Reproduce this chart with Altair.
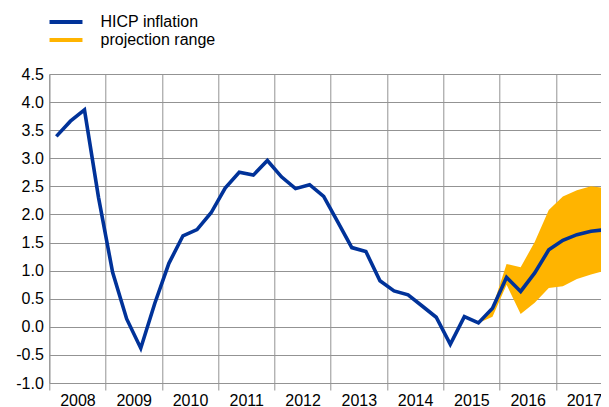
import altair as alt
import pandas as pd

years = ["2008", "2009", "2010", "2011", "2012", "2013", "2014", "2015", "2016", "2017"]

# quarterly HICP inflation, 2008Q1 .. 2017Q4
hicp = [3.39, 3.66, 3.86, 2.30,
        0.97, 0.14, -0.38, 0.42,
        1.13, 1.62, 1.73, 2.03,
        2.47, 2.75, 2.70, 2.96,
        2.67, 2.46, 2.53, 2.32,
        1.87, 1.41, 1.34, 0.82,
        0.64, 0.57, 0.37, 0.17,
        -0.31, 0.18, 0.07, 0.33,
        0.88, 0.63, 0.96, 1.37,
        1.54, 1.64, 1.70, 1.73]

# projection range, starting at quarter index 30 (2015Q3)
proj_start = 30
proj_low = [0.07, 0.18, 0.75, 0.23, 0.43, 0.69, 0.72, 0.85, 0.93, 1.00]
proj_high = [0.07, 0.35, 1.12, 1.06, 1.51, 2.08, 2.32, 2.43, 2.50, 2.47]

y_ticks = [-1.0, -0.5, 0.0, 0.5, 1.0, 1.5, 2.0, 2.5, 3.0, 3.5, 4.0, 4.5]

series_names = ["HICP inflation", "projection range"]
series_colors = ["#003299", "#ffb400"]

line_df = pd.DataFrame({
    "q": [i + 0.5 for i in range(len(hicp))],
    "value": hicp,
    "series": series_names[0],
})
area_df = pd.DataFrame({
    "q": [proj_start + i + 0.5 for i in range(len(proj_low))],
    "low": proj_low,
    "high": proj_high,
    "series": series_names[1],
})

FONT = "Liberation Sans"
GRID = "#939393"
n_q = len(years) * 4

# the plot is cut by the right edge of the picture, a bit before the end of 2017
PAD_L = 41.3
PLOT_W = 593 - PAD_L
Q_W = 14.07
x_max = PLOT_W / Q_W

years_js = "[" + ",".join("'" + y + "'" for y in years) + "]"
is_boundary = "datum.value % 4 == 0"

x_enc = alt.X(
    "q:Q",
    scale=alt.Scale(domain=[0, x_max], nice=False, zero=False),
    axis=alt.Axis(
        title=None,
        values=list(range(0, n_q, 2)),
        labelExpr=f"datum.value % 4 == 2 ? {years_js}[floor(datum.value / 4)] : ''",
        tickOpacity={"condition": {"test": is_boundary, "value": 1}, "value": 0},
        gridOpacity={"condition": {"test": is_boundary, "value": 1}, "value": 0},
        tickSize=7,
        tickColor=GRID,
        gridColor=GRID,
        domainColor=GRID,
        labelPadding=2,
        labelFontSize=16,
        labelFont=FONT,
        labelColor="#000000",
        labelAngle=0,
        labelFlush=False,
        labelOverlap=False,
    ),
)

y_scale = alt.Scale(domain=[-1.0, 4.5], nice=False, zero=False)
y_axis = alt.Axis(
    title=None,
    values=y_ticks,
    labelExpr="(datum.value < 0 ? '-' : '') + format(abs(datum.value), '.1f')",
    ticks=False,
    labelPadding=6,
    gridColor=GRID,
    domainColor=GRID,
    labelFontSize=16,
    labelFont=FONT,
    labelColor="#000000",
    labelOverlap=False,
)

color_scale = alt.Scale(domain=series_names, range=series_colors)
legend = alt.Legend(
    title=None,
    orient="none",
    legendX=6.7,
    legendY=-62,
    symbolType="M-2.06,0H2.06",
    symbolSize=256,
    symbolStrokeWidth=4,
    labelFontSize=16,
    labelFont=FONT,
    labelColor="#000000",
    labelOffset=24.5,
    rowPadding=0,
    padding=0,
)

area = alt.Chart(area_df).mark_area(opacity=1).encode(
    x=x_enc,
    y=alt.Y("low:Q", scale=y_scale, axis=y_axis),
    y2="high:Q",
    color=alt.Color("series:N", scale=color_scale, legend=legend),
)

line = alt.Chart(line_df).mark_line(strokeWidth=3.6).encode(
    x=x_enc,
    y=alt.Y("value:Q", scale=y_scale, axis=y_axis),
    color=alt.Color("series:N", scale=color_scale, legend=legend),
)

chart = alt.layer(area, line).properties(
    width=PLOT_W,
    height=309,
    autosize=alt.AutoSizeParams(type="none"),
    padding={"left": PAD_L, "top": 66, "right": 0, "bottom": 26},
    background="white",
).configure_view(stroke=None)

chart.save("out.html", embed_options={"renderer": "svg", "actions": False})
